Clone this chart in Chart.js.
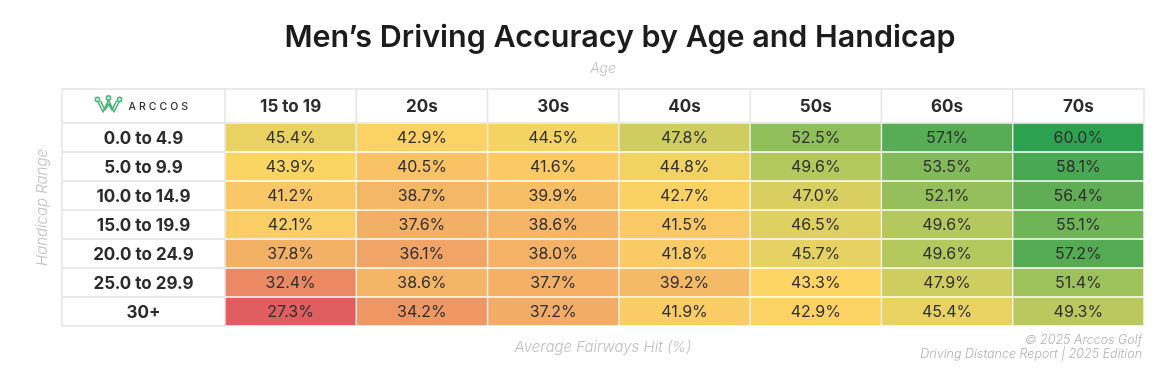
<!DOCTYPE html>
<html>
<head>
<meta charset="utf-8">
<script src="https://cdn.jsdelivr.net/npm/chart.js@4.4.1/dist/chart.umd.min.js"></script>
<style>
  html, body { margin: 0; padding: 0; background: #ffffff; }
  #wrap { width: 1166px; height: 382px; position: relative; }
</style>
</head>
<body>
<div id="wrap"><canvas id="c" width="1166" height="382"></canvas></div>
<script>
// ---------------- DATA ----------------
const ages = ['15 to 19', '20s', '30s', '40s', '50s', '60s', '70s'];
const handicaps = ['0.0 to 4.9', '5.0 to 9.9', '10.0 to 14.9', '15.0 to 19.9', '20.0 to 24.9', '25.0 to 29.9', '30+'];

const hcp0to4   = [45.4, 42.9, 44.5, 47.8, 52.5, 57.1, 60.0];
const hcp5to9   = [43.9, 40.5, 41.6, 44.8, 49.6, 53.5, 58.1];
const hcp10to14 = [41.2, 38.7, 39.9, 42.7, 47.0, 52.1, 56.4];
const hcp15to19 = [42.1, 37.6, 38.6, 41.5, 46.5, 49.6, 55.1];
const hcp20to24 = [37.8, 36.1, 38.0, 41.8, 45.7, 49.6, 57.2];
const hcp25to29 = [32.4, 38.6, 37.7, 39.2, 43.3, 47.9, 51.4];
const hcp30plus = [27.3, 34.2, 37.2, 41.9, 42.9, 45.4, 49.3];

const chartTitle = 'Men\u2019s Driving Accuracy by Age and Handicap';
const xTitle = 'Age';
const yTitle = 'Handicap Range';
const valueTitle = 'Average Fairways Hit (%)';
const creditLines = ['\u00A9 2025 Arccos Golf', 'Driving Distance Report | 2025 Edition'];
const brandName = 'ARCCOS';

// ---------------- STYLE ----------------
const rowValues = [hcp0to4, hcp5to9, hcp10to14, hcp15to19, hcp20to24, hcp25to29, hcp30plus];
const FONT = 'Inter, "Open Sans", "DejaVu Sans", sans-serif';
const gridColor = '#e3e3e3';

const colorStops = [
  [27.3, [224, 94, 96]],
  [33.0, [236, 142, 100]],
  [38.0, [243, 178, 102]],
  [43.5, [253, 214, 100]],
  [47.5, [212, 206, 96]],
  [50.5, [168, 197, 92]],
  [54.0, [125, 184, 88]],
  [57.0, [88, 172, 84]],
  [60.0, [44, 162, 80]]
];
function colorFor(v) {
  if (v <= colorStops[0][0]) return 'rgb(' + colorStops[0][1].join(',') + ')';
  for (let k = 1; k < colorStops.length; k++) {
    const [v1, c1] = colorStops[k];
    const [v0, c0] = colorStops[k - 1];
    if (v <= v1) {
      const t = (v - v0) / (v1 - v0);
      const c = c0.map((a, idx) => Math.round(a + (c1[idx] - a) * t));
      return 'rgb(' + c.join(',') + ')';
    }
  }
  return 'rgb(' + colorStops[colorStops.length - 1][1].join(',') + ')';
}

const datasets = rowValues.map((vals, i) => ({
  label: handicaps[i],
  data: ages.map(() => [i, i + 1]),
  cellValues: vals,
  backgroundColor: vals.map(colorFor),
  borderColor: 'rgba(255,255,255,0.45)',
  borderWidth: 1,
  borderSkipped: false,
  barPercentage: 1,
  categoryPercentage: 1,
  grouped: false
}));

const LABEL_W = 163;
const HEAD_H = 34;

const tablePlugin = {
  id: 'tableDecor',
  beforeDatasetsDraw(chart) {
    const { ctx, chartArea: ca, scales: { x, y } } = chart;
    const left = ca.left - LABEL_W;
    const top = ca.top - HEAD_H;
    const half = (x.getPixelForValue(1) - x.getPixelForValue(0)) / 2;
    ctx.save();
    ctx.strokeStyle = gridColor;
    ctx.lineWidth = 1.5;
    ctx.beginPath();
    ctx.moveTo(left, top); ctx.lineTo(ca.right, top);
    ctx.moveTo(ca.right, top); ctx.lineTo(ca.right, ca.top);
    ctx.moveTo(left, top); ctx.lineTo(left, ca.bottom);
    ctx.moveTo(left, ca.bottom); ctx.lineTo(ca.left, ca.bottom);
    ctx.moveTo(left, ca.top); ctx.lineTo(ca.right, ca.top);
    ages.forEach((a, j) => {
      const px = x.getPixelForValue(j) - half;
      ctx.moveTo(px, top); ctx.lineTo(px, ca.bottom);
    });
    handicaps.forEach((h, i) => {
      const py = y.getPixelForValue(i + 1);
      ctx.moveTo(left, py); ctx.lineTo(ca.left, py);
    });
    ctx.stroke();

    // row labels
    ctx.fillStyle = '#2b2b2b';
    ctx.font = 'bold 17px ' + FONT;
    ctx.textAlign = 'center';
    ctx.textBaseline = 'middle';
    handicaps.forEach((h, i) => {
      ctx.fillText(h, left + LABEL_W / 2, y.getPixelForValue(i + 0.5) + 1);
    });

    // brand logo in the header corner cell
    const cx = left + LABEL_W / 2;
    const cy = top + HEAD_H / 2;
    const ix = cx - 46;
    ctx.strokeStyle = '#4db57a';
    ctx.fillStyle = '#ffffff';
    ctx.lineWidth = 1.6;
    ctx.lineJoin = 'round';
    ctx.beginPath();
    ctx.moveTo(ix, cy - 5); ctx.lineTo(ix + 5.5, cy + 6); ctx.lineTo(ix + 11, cy - 6);
    ctx.lineTo(ix + 16.5, cy + 6); ctx.lineTo(ix + 22, cy - 5);
    ctx.moveTo(ix + 3, cy - 5); ctx.lineTo(ix + 7.5, cy + 4); ctx.lineTo(ix + 11, cy - 2);
    ctx.lineTo(ix + 14.5, cy + 4); ctx.lineTo(ix + 19, cy - 5);
    ctx.stroke();
    [[ix, cy - 6.5], [ix + 11, cy - 8], [ix + 22, cy - 6.5]].forEach(([px, py]) => {
      ctx.beginPath(); ctx.arc(px, py, 2.1, 0, Math.PI * 2); ctx.fill(); ctx.stroke();
    });
    ctx.fillStyle = '#2f2f2f';
    ctx.font = '500 10.5px ' + FONT;
    ctx.textAlign = 'left';
    if ('letterSpacing' in ctx) ctx.letterSpacing = '3px';
    ctx.fillText(brandName, ix + 31, cy + 0.5);
    if ('letterSpacing' in ctx) ctx.letterSpacing = '0px';
    ctx.restore();
  },
  afterDatasetsDraw(chart) {
    const { ctx } = chart;
    ctx.save();
    ctx.fillStyle = '#2e2e2e';
    ctx.font = '16px ' + FONT;
    ctx.textAlign = 'center';
    ctx.textBaseline = 'middle';
    chart.data.datasets.forEach((ds, i) => {
      const meta = chart.getDatasetMeta(i);
      meta.data.forEach((el, j) => {
        const p = el.getProps(['x', 'y', 'base'], true);
        ctx.fillText(ds.cellValues[j].toFixed(1) + '%', p.x, (p.y + p.base) / 2 + 1);
      });
    });
    ctx.restore();
  },
  afterDraw(chart) {
    const { ctx, chartArea: ca } = chart;
    const tableLeft = ca.left - LABEL_W;
    const tableMid = (tableLeft + ca.right) / 2;
    const tableTop = ca.top - HEAD_H;
    ctx.save();
    // title
    ctx.fillStyle = '#1c1c1c';
    ctx.font = '600 30.5px ' + FONT;
    ctx.textAlign = 'center';
    ctx.textBaseline = 'alphabetic';
    ctx.fillText(chartTitle, 620, 47);
    // axis titles
    ctx.fillStyle = '#c0c0c0';
    ctx.font = 'italic 300 14px ' + FONT;
    ctx.textBaseline = 'middle';
    ctx.fillText(xTitle, tableMid, 69);
    ctx.font = 'italic 300 15px ' + FONT;
    ctx.fillText(valueTitle, tableMid, 347);
    ctx.save();
    ctx.translate(42, (tableTop + ca.bottom) / 2);
    ctx.rotate(-Math.PI / 2);
    ctx.font = 'italic 300 15px ' + FONT;
    ctx.fillText(yTitle, 0, 0);
    ctx.restore();
    // credits
    ctx.fillStyle = '#b0b0b0';
    ctx.font = 'italic 300 12.5px ' + FONT;
    ctx.textAlign = 'right';
    ctx.fillText(creditLines[0], ca.right - 2, 340);
    ctx.fillText(creditLines[1], ca.right - 2, 354);
    ctx.restore();
  }
};

new Chart(document.getElementById('c'), {
  type: 'bar',
  data: { labels: ages, datasets },
  options: {
    responsive: false,
    devicePixelRatio: 1,
    animation: false,
    layout: { padding: { left: 225, right: 22, top: 89, bottom: 56 } },
    plugins: { legend: { display: false }, tooltip: { enabled: false }, title: { display: false } },
    scales: {
      x: {
        type: 'category',
        position: 'top',
        offset: true,
        grid: { display: false },
        border: { display: false },
        ticks: {
          color: '#2b2b2b',
          font: { family: FONT, size: 17, weight: 'bold' },
          padding: -2,
          maxRotation: 0,
          autoSkip: false
        },
        afterFit(scale) { scale.height = HEAD_H; }
      },
      y: {
        type: 'linear',
        min: 0,
        max: 7,
        reverse: true,
        display: false
      }
    }
  },
  plugins: [tablePlugin]
});
</script>
</body>
</html>
